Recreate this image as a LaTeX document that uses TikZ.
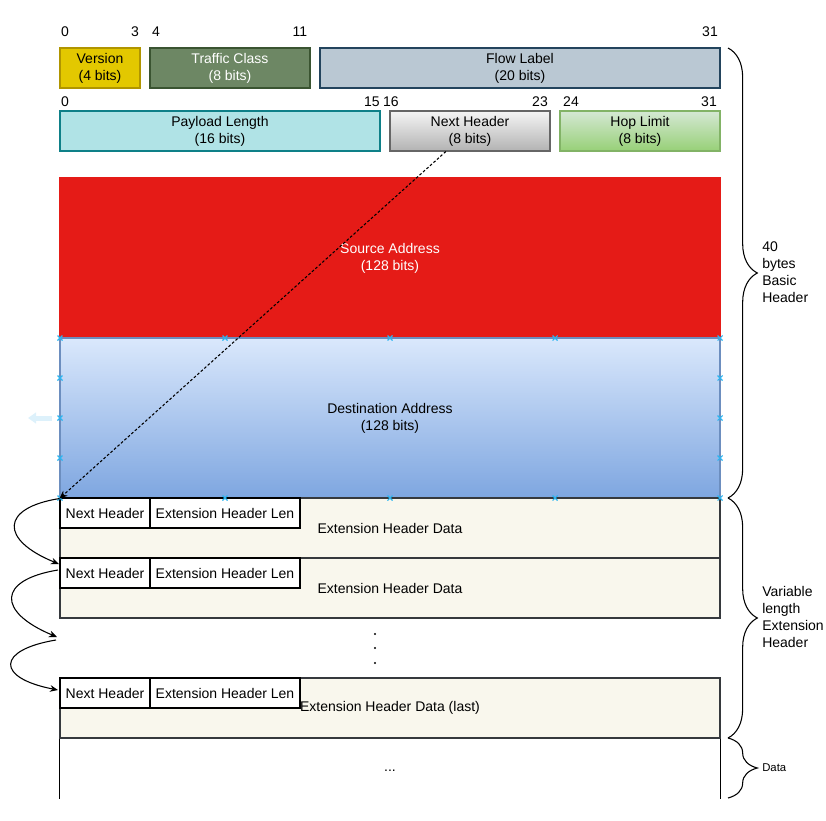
\documentclass[tikz,border=0pt]{standalone}
\usepackage{fontspec}
\setmainfont{Liberation Sans}
\usetikzlibrary{arrows.meta,calc,decorations.pathreplacing}

\definecolor{verfill}{HTML}{E3C800}
\definecolor{verline}{HTML}{B09500}
\definecolor{tcfill}{HTML}{6D8764}
\definecolor{tcline}{HTML}{3A5431}
\definecolor{flfill}{HTML}{BAC8D3}
\definecolor{flline}{HTML}{23445D}
\definecolor{plfill}{HTML}{B0E3E6}
\definecolor{plline}{HTML}{0E8088}
\definecolor{nhline}{HTML}{666666}
\definecolor{hltop}{HTML}{D5E8D4}
\definecolor{hlbot}{HTML}{97D077}
\definecolor{hlline}{HTML}{82B366}
\definecolor{srcred}{HTML}{E51B17}
\definecolor{dsttop}{HTML}{DAE8FC}
\definecolor{dstbot}{HTML}{7EA6E0}
\definecolor{dstline}{HTML}{6C8EBF}
\definecolor{extfill}{HTML}{F9F7ED}
\definecolor{extline}{HTML}{36393D}
\definecolor{handleblue}{HTML}{29B6F2}
\definecolor{ghostblue}{HTML}{DDF1FB}

\begin{document}
\begin{tikzpicture}[x=0.75pt, y=-0.75pt,
		every node/.style={font=\fontsize{10.5}{12.75}\selectfont},
		field/.style={draw, line width=0.8pt, minimum height=30pt, inner sep=0pt, align=center,
			execute at begin node=\rule{0pt}{12.5pt}},
		extbox/.style={draw=extline, fill=extfill, line width=0.8pt, minimum width=495pt, minimum height=45pt, inner sep=0pt},
		cell/.style={draw=black, fill=white, line width=0.8pt, minimum height=22.5pt, inner sep=0pt},
		hop/.style={line width=0.8pt, black, -{Stealth[length=6pt, width=5pt]}},
		handle/.style={handleblue, line width=0.8pt},
		bracket/.style={decorate, decoration={brace, amplitude=22pt}, line width=0.8pt}]
	\useasboundingbox (0,0) rectangle (826,821);
	\node (n0) at (65,32) {0};
	\node (n3) at (135,32) {3};
	\node (n4) at (156,32) {4};
	\node (n11) at (300,32) {11};
	\node (n31) at (710,32) {31};
	\node[field, fill=verfill, draw=verline, minimum width=60pt] (ver) at (100,68) {Version\\(4 bits)};
	\node[field, fill=tcfill, draw=tcline, text=white, minimum width=120pt] (tc) at (230,68) {Traffic Class\\(8 bits)};
	\node[field, fill=flfill, draw=flline, minimum width=300pt] (fl) at (520,68) {Flow Label\\(20 bits)};
	\node (m0) at (65,102) {0};
	\node (m15) at (372,102) {15};
	\node (m16) at (391,102) {16};
	\node (m23) at (540,102) {23};
	\node (m24) at (571,102) {24};
	\node (m31) at (709,102) {31};
	\node[field, fill=plfill, draw=plline, minimum width=240pt] (pl) at (220,131) {Payload Length\\(16 bits)};
	\node[field, top color=white!96!black, bottom color=white!70!black, draw=nhline, minimum width=120pt] (nh) at (470,131) {Next Header\\(8 bits)};
	\node[field, top color=hltop, bottom color=hlbot, draw=hlline, minimum width=120pt] (hl) at (640,131) {Hop Limit\\(8 bits)};
	\node[field, fill=srcred, draw=srcred, text=white, minimum width=495pt, minimum height=120pt] (src) at (390,258) {Source Address\\(128 bits)};
	\node[field, top color=dsttop, bottom color=dstbot, draw=dstline, minimum width=495pt, minimum height=120pt] (dst) at (390,418) {Destination Address\\(128 bits)};
	\node[extbox] (ext1) at (390,528) {Extension Header Data};
	\node[cell, minimum width=67.5pt] (nha) at (105,513) {Next Header};
	\node[cell, minimum width=112.5pt] (lena) at (225,513) {Extension Header Len};
	\node[extbox] (ext2) at (390,588) {Extension Header Data};
	\node[cell, minimum width=67.5pt] (nhb) at (105,573) {Next Header};
	\node[cell, minimum width=112.5pt] (lenb) at (225,573) {Extension Header Len};
	\fill (375,634) circle (0.9pt);
	\fill (375,648) circle (0.9pt);
	\fill (375,663) circle (0.9pt);
	\node[extbox] (ext3) at (390,708) {};
	\node[cell, minimum width=67.5pt] (nhc) at (105,693) {Next Header};
	\node[cell, minimum width=112.5pt] (lenc) at (225,693) {Extension Header Len};
	\node (ext3txt) at (390,708) {Extension Header Data (last)};
	\draw[line width=0.8pt] (ext3.south west) -- ++(0,60);
	\draw[line width=0.8pt] (ext3.south east) -- ++(0,60);
	\node (dat) at (390,771) {...};
	\foreach \hx/\hy in {60/338, 225/338, 390/338, 555/338, 720/338, 60/378, 720/378, 60/418, 720/418, 60/458, 720/458, 60/498, 225/498, 390/498, 555/498, 720/498}
		\draw[handle] (\hx-2.5,\hy-2.5) -- (\hx+2.5,\hy+2.5) (\hx-2.5,\hy+2.5) -- (\hx+2.5,\hy-2.5);
	\draw[ghostblue, line width=3.75pt, -{Triangle[length=6pt, width=8pt]}] (52,418) -- (28,418);
	\draw[line width=0.8pt, black, dash pattern=on 2pt off 1.5pt, -{Stealth[length=6pt, width=5pt]}] ($(nh.south west)!0.35!(nh.south east)$) -- (dst.south west);
	\coordinate (c1) at (59,564);
	\coordinate (c2) at (58,570);
	\coordinate (c3) at (57,637);
	\coordinate (c4) at (56,640);
	\coordinate (c5) at (58,690);
	\draw[hop] (dst.south west) .. controls (0,508) and (0,540) .. (c1);
	\draw[hop] (c2) .. controls (-3,580) and (-3,612) .. (c3);
	\draw[hop] (c4) .. controls (-4,650) and (-4,678) .. (c5);
	\draw[bracket] (728,48) -- (728,498);
	\draw[bracket] (728,498) -- (728,738);
	\draw[bracket] (728,738) -- (728,798);
	\node[anchor=west, align=left, inner sep=0pt] (basiclab) at (762,272) {40\\bytes\\Basic\\Header};
	\node[anchor=west, align=left, inner sep=0pt] (extlab) at (762,617) {Variable\\length\\Extension\\Header};
	\node[anchor=west, inner sep=0pt, font=\fontsize{8.5}{10}\selectfont] (datalab) at (762,768) {Data};
\end{tikzpicture}
\end{document}
